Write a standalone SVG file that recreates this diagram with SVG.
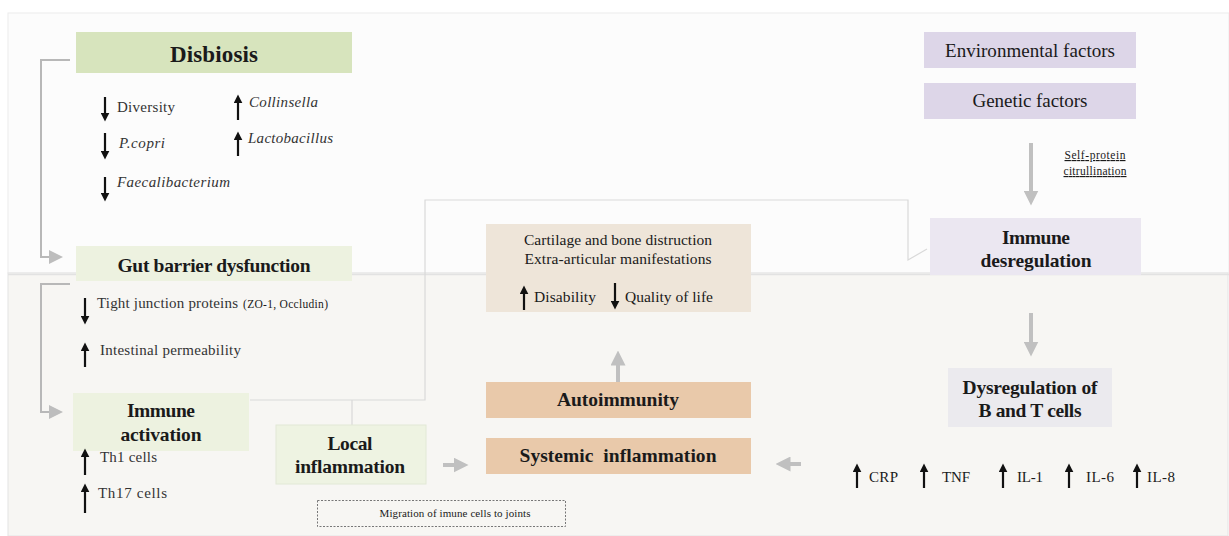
<svg xmlns="http://www.w3.org/2000/svg" width="1229" height="536" viewBox="0 0 1229 536">
<style>
text{font-family:"Liberation Serif","DejaVu Serif","Noto Serif",serif;fill:#1a1a1a}
.b{font-weight:bold;text-anchor:middle;font-size:19.5px}
.m{text-anchor:middle}
.i{font-style:italic}
.t{font-size:15px;fill:#333}
.thin{fill:none;stroke:#d9d9d9;stroke-width:1.2}
.br{fill:none;stroke:#b8b8b8;stroke-width:2}
.ga{fill:none;stroke:#c0c0c0;stroke-width:4}
.ka{fill:none;stroke:#111;stroke-width:2.2}
</style>
<defs>
<marker id="k" markerUnits="userSpaceOnUse" viewBox="0 0 10 10" refX="6" refY="5" markerWidth="9" markerHeight="9" orient="auto"><path d="M0,0 L10,5 L0,10 z" fill="#111"/></marker>
<marker id="g" markerUnits="userSpaceOnUse" viewBox="0 0 10 10" refX="5" refY="5" markerWidth="15" markerHeight="15" orient="auto"><path d="M0,0 L10,5 L0,10 z" fill="#c0c0c0"/></marker>
<marker id="gs" markerUnits="userSpaceOnUse" viewBox="0 0 10 10" refX="5" refY="5" markerWidth="14" markerHeight="14" orient="auto"><path d="M0,0 L10,5 L0,10 z" fill="#bdbdbd"/></marker>
</defs>
<rect width="1229" height="536" fill="#ffffff"/>
<rect x="8" y="13" width="1221" height="260" fill="#fcfcfc" stroke="#ececec" stroke-width="1"/>
<rect x="8" y="273" width="1220" height="263" fill="#f7f6f3" stroke="#e4e4e4" stroke-width="1"/>
<line x1="8" y1="274.5" x2="1229" y2="274.5" stroke="#e2e2e2" stroke-width="1.5"/>

<g id="connectors">
<path class="br" d="M70,60 H41 V257 H56" marker-end="url(#gs)"/>
<path class="br" d="M70,284 H41 V412 H56" marker-end="url(#gs)"/>
<path class="thin" d="M250,400 H425 V200 H908 V260 L927,249"/>
<path class="thin" d="M352,400 V425"/>
<path class="ga" d="M443,465 H461" marker-end="url(#g)"/>
<path class="ga" d="M801,464 H783" marker-end="url(#g)"/>
<path class="ga" d="M618,382 V358" marker-end="url(#g)"/>
<path class="ga" d="M1031,143 V198" marker-end="url(#g)"/>
<path class="ga" d="M1031,313 V349" marker-end="url(#g)"/>
</g>

<g id="disbiosis">
<rect x="76" y="32" width="276" height="41" fill="#d7e4bd"/>
<text class="b" x="214" y="62" style="font-size:23px" textLength="88">Disbiosis</text>
<path class="ka" d="M105,97 V118" marker-end="url(#k)"/>
<text class="t" x="117" y="112" textLength="58">Diversity</text>
<path class="ka" d="M105,133 V156" marker-end="url(#k)"/>
<text class="t i" x="119" y="148" textLength="46">P.copri</text>
<path class="ka" d="M105,177 V198" marker-end="url(#k)"/>
<text class="t i" x="117" y="187" textLength="113">Faecalibacterium</text>
<path class="ka" d="M238,120 V98" marker-end="url(#k)"/>
<text class="t i" x="249" y="107" textLength="69">Collinsella</text>
<path class="ka" d="M238,156 V135" marker-end="url(#k)"/>
<text class="t i" x="248" y="143" textLength="85">Lactobacillus</text>
</g>

<g id="gut-barrier">
<rect x="76" y="246" width="276" height="35" fill="#edf2e0"/>
<text class="b" x="214" y="272" textLength="193">Gut barrier dysfunction</text>
<path class="ka" d="M85,298 V321" marker-end="url(#k)"/>
<text class="t" x="97" y="308" textLength="141">Tight junction proteins</text>
<text x="243" y="308" font-size="11.5" fill="#333" textLength="85">(ZO-1, Occludin)</text>
<path class="ka" d="M85,367 V346" marker-end="url(#k)"/>
<text class="t" x="100" y="355" textLength="141">Intestinal permeability</text>
</g>

<g id="immune-activation">
<rect x="73" y="393" width="176" height="58" fill="#edf2e0"/>
<text class="b" x="161" y="417" textLength="68">Immune</text>
<text class="b" x="161" y="441" textLength="81">activation</text>
<path class="ka" d="M85,475 V452" marker-end="url(#k)"/>
<text class="t" x="100" y="462" textLength="57">Th1 cells</text>
<path class="ka" d="M85,513 V487" marker-end="url(#k)"/>
<text class="t" x="98" y="498" textLength="69">Th17 cells</text>
</g>

<g id="local-inflammation">
<rect x="276" y="425" width="150" height="59" fill="#eef3e2" stroke="#e2e8d6" stroke-width="1"/>
<text class="b" x="350" y="450" textLength="45">Local</text>
<text class="b" x="350" y="473" textLength="110">inflammation</text>
</g>

<g id="migration">
<rect x="317.5" y="500.5" width="248" height="26" fill="none" stroke="#777" stroke-width="1" stroke-dasharray="2,1.5"/>
<text class="m" x="455" y="517" font-size="11" fill="#333" textLength="151">Migration of imune cells to joints</text>
</g>

<g id="cartilage">
<rect x="486" y="224" width="265" height="88" fill="#eee5d9"/>
<text class="m" x="618" y="245" font-size="15.5" fill="#333" textLength="188">Cartilage and bone distruction</text>
<text class="m" x="618" y="264" font-size="15.5" fill="#333" textLength="187">Extra-articular manifestations</text>
<path class="ka" d="M524,310 V289" marker-end="url(#k)"/>
<text x="534" y="302" font-size="15.5" fill="#333" textLength="62">Disability</text>
<path class="ka" d="M615,283 V306" marker-end="url(#k)"/>
<text x="625" y="302" font-size="15.5" fill="#333" textLength="88">Quality of life</text>
</g>

<g id="autoimmunity">
<rect x="486" y="382" width="265" height="36" fill="#e9c9aa"/>
<text class="b" x="618" y="406" textLength="122">Autoimmunity</text>
</g>

<g id="systemic-inflammation">
<rect x="486" y="438" width="265" height="36" fill="#e9c9aa"/>
<text class="b" x="618" y="462" xml:space="preserve" textLength="197">Systemic  inflammation</text>
</g>

<g id="environmental">
<rect x="924" y="32" width="212" height="36" fill="#ddd6e8"/>
<text class="m" x="1030" y="57" font-size="19" fill="#333" textLength="170">Environmental factors</text>
</g>

<g id="genetic">
<rect x="924" y="83" width="212" height="36" fill="#ddd6e8"/>
<text class="m" x="1030" y="107" font-size="19" fill="#333" textLength="115">Genetic factors</text>
</g>

<g id="citrullination-label">
<text class="m" x="1095" y="159" font-size="11.5" text-decoration="underline" fill="#333" textLength="61">Self-protein</text>
<text class="m" x="1095" y="175" font-size="11.5" text-decoration="underline" fill="#333" textLength="63">citrullination</text>
</g>

<g id="immune-desregulation">
<rect x="930" y="218" width="211" height="57" fill="#ebe7f1"/>
<text class="b" x="1036" y="244" textLength="68">Immune</text>
<text class="b" x="1036" y="267" textLength="111">desregulation</text>
</g>

<g id="dysregulation-bt">
<rect x="948" y="368" width="164" height="59" fill="#ebeaee"/>
<text class="b" x="1030" y="394" textLength="135">Dysregulation of</text>
<text class="b" x="1030" y="417" textLength="103">B and T cells</text>
</g>

<g id="cytokines">
<path class="ka" d="M857,488 V467" marker-end="url(#k)"/>
<text x="869" y="482" font-size="15" fill="#333" textLength="29">CRP</text>
<path class="ka" d="M924,488 V467" marker-end="url(#k)"/>
<text x="942" y="482" font-size="15" fill="#333" textLength="28">TNF</text>
<path class="ka" d="M1003,488 V467" marker-end="url(#k)"/>
<text x="1017" y="482" font-size="15" fill="#333" textLength="26">IL-1</text>
<path class="ka" d="M1069,488 V467" marker-end="url(#k)"/>
<text x="1086" y="482" font-size="15" fill="#333" textLength="28">IL-6</text>
<path class="ka" d="M1137,488 V467" marker-end="url(#k)"/>
<text x="1147" y="482" font-size="15" fill="#333" textLength="28">IL-8</text>
</g>
</svg>
